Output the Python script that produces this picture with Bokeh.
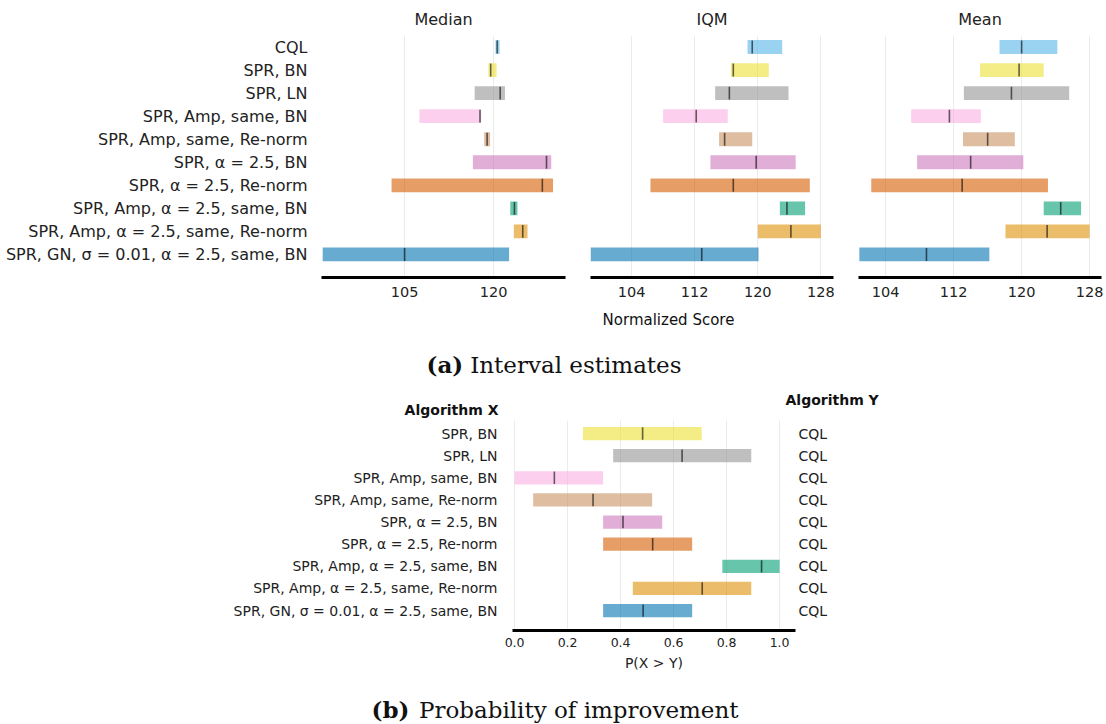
from bokeh.plotting import figure
from bokeh.layouts import column, row
from bokeh.models import (Range1d, FixedTicker, Label, LinearAxis, ColumnDataSource,
                          NumeralTickFormatter)
from bokeh.embed import file_html
from bokeh.resources import INLINE

# ---------------------------------------------------------------- data
algorithms = [
    "CQL",
    "SPR, BN",
    "SPR, LN",
    "SPR, Amp, same, BN",
    "SPR, Amp, same, Re-norm",
    "SPR, α = 2.5, BN",
    "SPR, α = 2.5, Re-norm",
    "SPR, Amp, α = 2.5, same, BN",
    "SPR, Amp, α = 2.5, same, Re-norm",
    "SPR, GN, σ = 0.01, α = 2.5, same, BN",
]
colors = ["#56B4E9", "#ECE133", "#949494", "#FBAFE4", "#CA9161",
          "#CC78BC", "#D55E00", "#029E73", "#DE8F05", "#0173B2"]

median_lo = [120.3, 119.1, 116.8, 107.5, 118.4, 116.5, 102.8, 122.8, 123.4, 91.2]
median_hi = [121.0, 120.5, 121.9, 117.9, 119.4, 129.7, 130.0, 124.0, 125.7, 122.6]
median_pt = [120.6, 119.5, 121.1, 117.7, 118.9, 128.9, 128.2, 123.5, 124.9, 105.0]

iqm_lo = [118.7, 116.6, 114.6, 108.0, 115.1, 114.0, 106.4, 122.8, 120.0, 98.8]
iqm_hi = [123.1, 121.4, 123.9, 116.2, 119.3, 124.8, 126.6, 126.0, 128.0, 120.1]
iqm_pt = [119.3, 116.9, 116.4, 112.2, 115.8, 119.8, 116.9, 123.7, 124.2, 112.9]

mean_lo = [117.4, 115.1, 113.2, 107.0, 113.1, 107.7, 102.3, 122.6, 118.1, 100.9]
mean_hi = [124.2, 122.6, 125.6, 115.2, 119.2, 120.2, 123.1, 127.0, 128.0, 116.2]
mean_pt = [120.0, 119.7, 118.8, 111.5, 116.0, 114.0, 113.0, 124.6, 123.0, 108.8]

median_ticks = [105, 120]
score_ticks = [104, 112, 120, 128]

# probability of improvement of each algorithm X over algorithm Y (CQL)
poi_algorithms = algorithms[1:]
poi_colors = colors[1:]
poi_reference = "CQL"
poi_lo = [0.258, 0.372, 0.0, 0.070, 0.334, 0.334, 0.784, 0.446, 0.334]
poi_hi = [0.706, 0.893, 0.334, 0.519, 0.557, 0.670, 1.0, 0.893, 0.670]
poi_pt = [0.483, 0.632, 0.150, 0.296, 0.409, 0.521, 0.932, 0.708, 0.485]
poi_ticks = [0.0, 0.2, 0.4, 0.6, 0.8, 1.0]

FONT = "DejaVu Sans"
SERIF = "DejaVu Serif"
TEXT = "#222222"
BAR_H = 0.6
BAR_ALPHA = 0.6
PAGE_W = 1106
TOP_BORDER = 34
TOP_FRAME = 242
TOP_BOTTOM = 30


def bare_axis(ax, size, standoff):
    ax.major_tick_out = 0
    ax.major_tick_in = 0
    ax.minor_tick_out = 0
    ax.minor_tick_in = 0
    ax.major_label_standoff = standoff
    ax.major_label_text_font = FONT
    ax.major_label_text_font_size = size
    ax.major_label_text_color = TEXT


def interval_panel(title, lo, hi, pt, x_range, ticks, border_left, border_right,
                   frame_w, with_labels):
    p = figure(frame_width=frame_w, frame_height=TOP_FRAME,
               min_border_left=border_left, min_border_right=border_right,
               min_border_top=TOP_BORDER, min_border_bottom=TOP_BOTTOM,
               x_range=Range1d(*x_range), y_range=Range1d(10.0, -0.5),
               output_backend="svg", toolbar_location=None)
    p.outline_line_color = None
    idx = list(range(len(algorithms)))
    src = ColumnDataSource(dict(y=idx, lo=lo, hi=hi, pt=pt, color=colors,
                                y0=[i - 0.28 for i in idx], y1=[i + 0.28 for i in idx]))
    p.hbar(y="y", left="lo", right="hi", height=BAR_H, fill_color="color",
           fill_alpha=BAR_ALPHA, line_color=None, source=src)
    p.segment(x0="pt", x1="pt", y0="y0", y1="y1", line_color="black",
              line_alpha=0.6, line_width=1.6, source=src)

    p.title.text = title
    p.title.align = "center"
    p.title.text_font = FONT
    p.title.text_font_size = "16px"
    p.title.text_font_style = "normal"
    p.title.text_color = TEXT
    p.title.standoff = 14

    xa = p.xaxis[0]
    xa.ticker = FixedTicker(ticks=ticks)
    xa.axis_line_width = 3
    xa.axis_line_color = "black"
    bare_axis(xa, "14.5px", 9)

    p.xgrid.ticker = FixedTicker(ticks=ticks)
    p.xgrid.grid_line_color = "#ebebeb"
    p.ygrid.grid_line_color = None

    ya = p.yaxis[0]
    if with_labels:
        ya.ticker = FixedTicker(ticks=idx)
        ya.major_label_overrides = {i: a for i, a in enumerate(algorithms)}
        ya.axis_line_color = None
        bare_axis(ya, "16px", 14)
    else:
        ya.visible = False
    return p


def text_strip(height):
    """A blank full-width band whose frame is measured in pixels from its top-left."""
    s = figure(width=PAGE_W, height=height, x_range=Range1d(0, PAGE_W),
               y_range=Range1d(height, 0), min_border=0,
               x_axis_location=None, y_axis_location=None,
               output_backend="svg", toolbar_location=None)
    s.outline_line_color = None
    s.xgrid.visible = False
    s.ygrid.visible = False
    return s


def label(fig, x, y, text, align="left", size="14px", font=FONT, style="normal"):
    fig.add_layout(Label(x=x, y=y, text=text, text_align=align,
                         text_baseline="middle", text_font=font,
                         text_font_size=size, text_font_style=style,
                         text_color="#111111"))


p_med = interval_panel("Median", median_lo, median_hi, median_pt, (91.0, 132.1),
                       median_ticks, 321, 12, 244, True)
p_iqm = interval_panel("IQM", iqm_lo, iqm_hi, iqm_pt, (98.8, 129.6),
                       score_ticks, 13, 12, 243, False)
p_mean = interval_panel("Mean", mean_lo, mean_hi, mean_pt, (100.8, 129.4),
                        score_ticks, 13, 5, 243, False)

# ---------------------------------------------------------------- probability of improvement
n = len(poi_algorithms)
pb = figure(frame_width=283, frame_height=210,
            min_border_left=512, min_border_right=311,
            min_border_top=0, min_border_bottom=45,
            x_range=Range1d(-0.008, 1.06), y_range=Range1d(8.9, -0.59),
            output_backend="svg", toolbar_location=None)
pb.outline_line_color = None
pidx = list(range(n))
psrc = ColumnDataSource(dict(y=pidx, lo=poi_lo, hi=poi_hi, pt=poi_pt, color=poi_colors,
                             y0=[i - 0.28 for i in pidx], y1=[i + 0.28 for i in pidx]))
pb.hbar(y="y", left="lo", right="hi", height=BAR_H, fill_color="color",
        fill_alpha=BAR_ALPHA, line_color=None, source=psrc)
pb.segment(x0="pt", x1="pt", y0="y0", y1="y1", line_color="black",
           line_alpha=0.6, line_width=1.6, source=psrc)

bx = pb.xaxis[0]
bx.ticker = FixedTicker(ticks=poi_ticks)
bx.formatter = NumeralTickFormatter(format="0.0")
bx.axis_line_width = 3
bx.axis_line_color = "black"
bare_axis(bx, "12.5px", 7)
bx.axis_label = "P(X > Y)"
bx.axis_label_standoff = 5
bx.axis_label_text_font = FONT
bx.axis_label_text_font_size = "14px"
bx.axis_label_text_font_style = "normal"
bx.axis_label_text_color = TEXT
pb.xgrid.ticker = FixedTicker(ticks=poi_ticks)
pb.xgrid.grid_line_color = "#ebebeb"
pb.ygrid.grid_line_color = None

by = pb.yaxis[0]
by.ticker = FixedTicker(ticks=pidx)
by.major_label_overrides = {i: a for i, a in enumerate(poi_algorithms)}
by.axis_line_color = None
bare_axis(by, "14px", 15)

ry = LinearAxis(ticker=FixedTicker(ticks=pidx),
                major_label_overrides={i: poi_reference for i in pidx})
ry.axis_line_color = None
bare_axis(ry, "14px", 3)
pb.add_layout(ry, "right")

# ---------------------------------------------------------------- free text bands
top_h = TOP_BORDER + TOP_FRAME + TOP_BOTTOM
band_a = text_strip(419 - top_h)
label(band_a, 668, 318 - top_h, "Normalized Score", align="center", size="15px")
label(band_a, 426, 363 - top_h, "(a)", size="23px", font=SERIF, style="bold")
label(band_a, 681, 363 - top_h, "Interval estimates", align="right", size="23px", font=SERIF)
label(band_a, 498, 408 - top_h, "Algorithm X", align="right", style="bold")
label(band_a, 785, 398 - top_h, "Algorithm Y", style="bold")

band_b = text_strip(49)
label(band_b, 371, 34, "(b)", size="23px", font=SERIF, style="bold")
label(band_b, 738, 34, "Probability of improvement", align="right", size="23px", font=SERIF)

# each band sits in its own row so that the column does not line up their frames
layout = column(row(p_med, p_iqm, p_mean, spacing=0), row(band_a), row(pb), row(band_b),
                spacing=0)

open("out.html", "w").write(file_html(layout, INLINE))
